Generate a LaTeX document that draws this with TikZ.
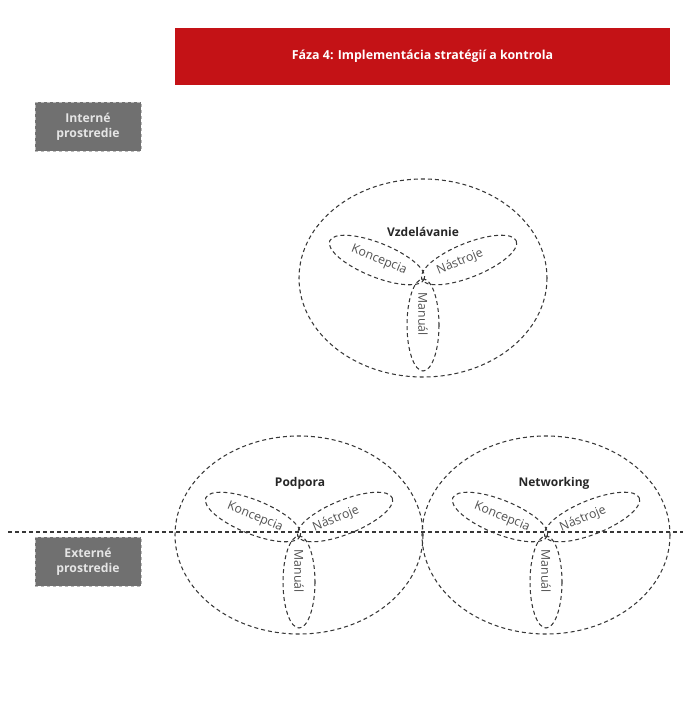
\documentclass[tikz,border=0pt]{standalone}
\usepackage{fontspec}
\setmainfont{Open Sans}

\definecolor{phasered}{RGB}{196,18,22}
\definecolor{envgray}{RGB}{112,112,112}
\definecolor{lineg}{RGB}{55,55,55}

\tikzset{
  dashline/.style={draw=lineg, line width=1.05pt, dash pattern=on 4pt off 3pt},
  envbox/.style={fill=envgray, draw=gray!55, dashed, minimum width=106pt, minimum height=49pt,
    text=white!90!black, font=\bfseries\fontsize{12.2}{15}\selectfont, align=center},
  clustertitle/.style={text=black!85, font=\bfseries\fontsize{12}{14}\selectfont},
  petaltext/.style={text=black!68, font=\fontsize{12.3}{14}\selectfont, inner sep=0pt}
}

\begin{document}
\begin{tikzpicture}[x=1pt,y=-1pt]
  \useasboundingbox (0,0) rectangle (683,719);

  % Phase header
  \node[fill=phasered, minimum width=495pt, minimum height=57pt, text=white,
    font=\bfseries\fontsize{12.4}{14}\selectfont] (phase) at (422.5,56.5)
    {Fáza 4: Implementácia stratégií a kontrola};

  % Environment labels
  \node[envbox] (intern) at (88,126.5) {Interné\\prostredie};
  \node[envbox] (extern) at (88,561.5) {Externé\\prostredie};

  % Border between internal and external environment
  \coordinate (borderL) at (8,532);
  \coordinate (borderR) at (683,532);
  \draw[dashline] (borderL) -- (borderR);

  % Activity clusters with their three petals
  \foreach \cx/\cy/\tx/\ty/\title [count=\i] in
    {423/278/0/-46/Vzdelávanie, 299/535/1/-52/Podpora, 546/535/8/-52/Networking}{
    \begin{scope}[shift={(\cx,\cy)}]
      \draw[dashline] (0,0) ellipse [x radius=124, y radius=99];
      \node[clustertitle] (title\i) at (\tx,\ty) {\title};
      % Koncepcia petal
      \draw[dashline, rotate around={-22:(-46,-18)}] (-46,-18) ellipse [x radius=51, y radius=17];
      \node[petaltext, rotate=-22] (konc\i) at (-44,-18) {Koncepcia};
      % Nastroje petal
      \draw[dashline, rotate around={22:(46,-18)}] (46,-18) ellipse [x radius=51, y radius=17];
      \node[petaltext, rotate=22] (nast\i) at (37,-16) {Nástroje};
      % Manual petal
      \draw[dashline] (0,47) ellipse [x radius=16, y radius=46];
      \node[petaltext, rotate=-90] (man\i) at (0,36) {Manuál};
    \end{scope}
  }
\end{tikzpicture}
\end{document}
